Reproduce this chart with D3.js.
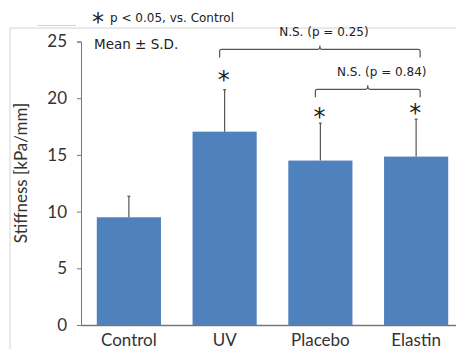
<!DOCTYPE html>
<html>
<head>
<meta charset="utf-8">
<script src="https://cdn.jsdelivr.net/npm/d3@7"></script>
<style>
  body { margin: 0; background: #fff; }
  svg { display: block; }
  .tick text, .cat { font-family: Lato, "Open Sans", sans-serif; font-size: 17px; fill: #333; }
  .note { font-family: "DejaVu Sans", sans-serif; font-size: 12px; fill: #222; }
</style>
</head>
<body>
<div id="chart"></div>
<script>
(function (d3) {
    'use strict';

    // Data.
    var groups = ['Control', 'UV', 'Placebo', 'Elastin'];
    var means = [9.5, 17.05, 14.5, 14.85];
    var sds = [1.85, 3.7, 3.3, 3.3];
    var starred = [false, true, true, true];
    var yTicks = [0, 5, 10, 15, 20, 25];

    // Comparisons drawn as brackets above the bars.
    var pairsFrom = ['UV', 'Placebo'];
    var pairsTo = ['Elastin', 'Elastin'];
    var pairsLabel = ['N.S. (p = 0.25)', 'N.S. (p = 0.84)'];
    var pairsLevel = [24.3, 20.78];

    var width = 456;
    var height = 349;

    var x = d3.scaleBand().domain(groups).range([81, 464]).paddingInner(0.33).paddingOuter(0.165);
    var y = d3.scaleLinear().domain([0, 25]).range([325, 41.5]);

    var svg = d3.select('#chart').append('svg')
        .attr('width', width)
        .attr('height', height);

    // Light frame of the original slide.
    svg.append('path')
        .attr('d', 'M10,349 V28 H456')
        .attr('fill', 'none')
        .attr('stroke', '#d4d4d4')
        .attr('stroke-width', 1);

    svg.append('line')
        .attr('x1', 37).attr('x2', 76).attr('y1', 25.5).attr('y2', 25.5)
        .attr('stroke', '#d4d4d4');

    // Bars
    svg.selectAll('.bar')
        .data(groups)
        .enter().append('rect')
        .attr('class', 'bar')
        .attr('x', function(d) { return x(d); })
        .attr('width', x.bandwidth())
        .attr('y', function(d, i) { return y(means[i]); })
        .attr('height', function(d, i) { return y(0) - y(means[i]); })
        .attr('fill', '#4f81bd');

    // Upper error bars
    var err = svg.selectAll('.err')
        .data(groups)
        .enter().append('g')
        .attr('class', 'err')
        .attr('stroke', '#555')
        .attr('stroke-width', 1.2);

    err.append('line')
        .attr('x1', function(d) { return x(d) + x.bandwidth() / 2; })
        .attr('x2', function(d) { return x(d) + x.bandwidth() / 2; })
        .attr('y1', function(d, i) { return y(means[i]); })
        .attr('y2', function(d, i) { return y(means[i] + sds[i]); });

    err.append('line')
        .attr('x1', function(d) { return x(d) + x.bandwidth() / 2 - 1.5; })
        .attr('x2', function(d) { return x(d) + x.bandwidth() / 2 + 1.5; })
        .attr('y1', function(d, i) { return y(means[i] + sds[i]); })
        .attr('y2', function(d, i) { return y(means[i] + sds[i]); });

    // Asterisks
    svg.selectAll('.star')
        .data(groups.filter(function(d, i) { return starred[i]; }))
        .enter().append('text')
        .attr('class', 'star')
        .attr('x', function(d) { return x(d) + x.bandwidth() / 2 - 1; })
        .attr('y', function(d) {
            var i = groups.indexOf(d);
            return y(means[i] + sds[i]) + (d === 'UV' ? -2 : 2);
        })
        .attr('text-anchor', 'middle')
        .attr('font-family', '"DejaVu Sans", sans-serif')
        .attr('font-size', 24)
        .attr('fill', '#222')
        .text('*');

    // Brackets
    pairsLabel.forEach(function(label, i) {
        var x1 = x(pairsFrom[i]) + x.bandwidth() / 2 - 5;
        var x2 = x(pairsTo[i]) + x.bandwidth() / 2 + 4;
        var yy = y(pairsLevel[i]);
        var mid = (x1 + x2) / 2;
        svg.append('path')
            .attr('d', 'M' + x1 + ',' + (yy + 8) + ' V' + (yy + 1.5) + ' Q' + x1 + ',' + yy + ' ' + (x1 + 2) + ',' + yy +
                ' H' + (mid - 2) + ' Q' + mid + ',' + yy + ' ' + mid + ',' + (yy - 4) +
                ' Q' + mid + ',' + yy + ' ' + (mid + 2) + ',' + yy +
                ' H' + (x2 - 2) + ' Q' + x2 + ',' + yy + ' ' + x2 + ',' + (yy + 1.5) + ' V' + (yy + 8))
            .attr('fill', 'none')
            .attr('stroke', '#555')
            .attr('stroke-width', 1.2);
        svg.append('text')
            .attr('class', 'note')
            .attr('x', mid + 4 + i * 10)
            .attr('y', yy - 13)
            .attr('text-anchor', 'middle')
            .text(label);
    });

    // Y axis
    var yAxis = svg.append('g')
        .attr('transform', 'translate(81,0)')
        .call(d3.axisLeft(y).tickValues(yTicks).tickSize(4).tickPadding(10));
    yAxis.select('.domain').attr('stroke', '#777');
    yAxis.selectAll('.tick line').attr('stroke', '#777');
    yAxis.selectAll('text').attr('font-family', null).attr('font-size', null);

    // X axis
    var xAxis = svg.append('g')
        .attr('transform', 'translate(0,325)')
        .call(d3.axisBottom(x).tickSize(0).tickPadding(9));
    xAxis.select('.domain').attr('stroke', '#777').attr('stroke-width', 1.5);
    xAxis.selectAll('text').attr('font-family', null).attr('font-size', null);

    // Axis title
    svg.append('text')
        .attr('class', 'cat')
        .attr('transform', 'translate(27,173) rotate(-90)')
        .attr('text-anchor', 'middle')
        .text('Stiffness [kPa/mm]');

    // Notes
    svg.append('text')
        .attr('x', 92).attr('y', 30)
        .attr('font-family', '"DejaVu Sans", sans-serif')
        .attr('font-size', 24)
        .attr('fill', '#222')
        .text('*');
    svg.append('text')
        .attr('class', 'note')
        .attr('x', 110).attr('y', 22)
        .text('p < 0.05, vs. Control');
    svg.append('text')
        .attr('class', 'note')
        .attr('x', 94).attr('y', 49)
        .style('font-size', '13.5px')
        .text('Mean ± S.D.');
})(d3);
</script>
</body>
</html>
